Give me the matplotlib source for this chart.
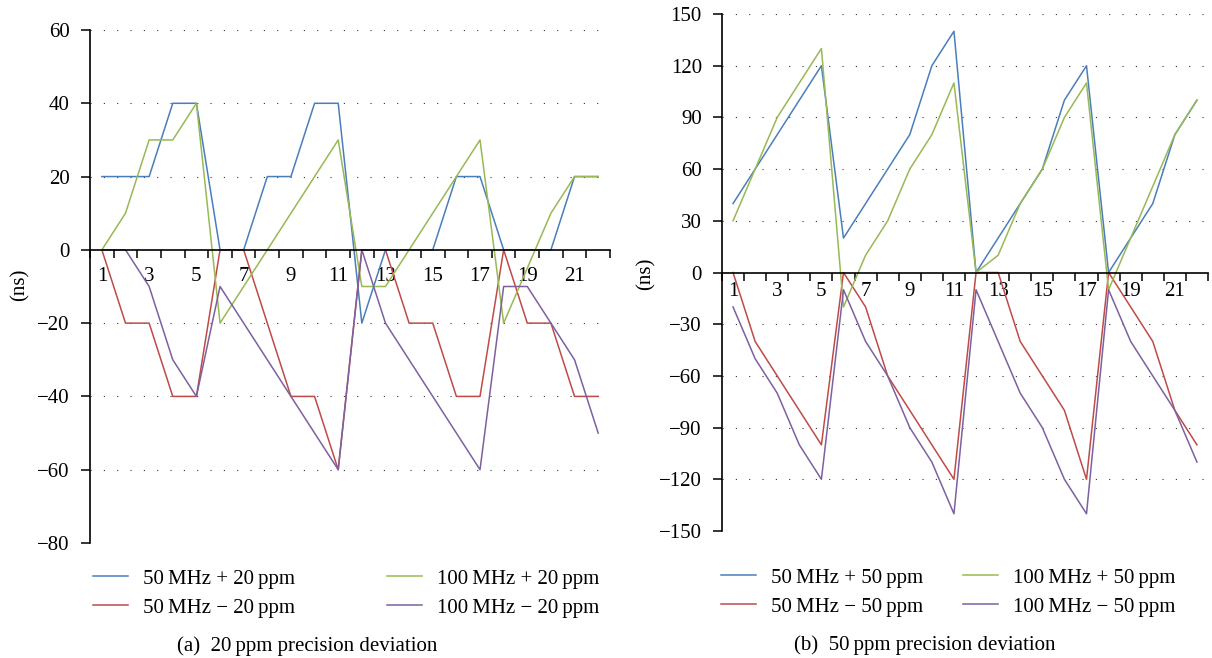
import matplotlib
matplotlib.use("Agg")
import matplotlib.pyplot as plt
import numpy as np

plt.rcParams['font.family'] = ['Liberation Serif', 'DejaVu Serif']
plt.rcParams['font.size'] = 15

# sample index 1..22
x = np.arange(1, 23)

# (a) 20 ppm
a_50_plus = [20, 20, 20, 40, 40, 0, 0, 20, 20, 40, 40, -20, 0, 0, 0, 20, 20, 0, 0, 0, 20, 20]
a_100_plus = [0, 10, 30, 30, 40, -20, -10, 0, 10, 20, 30, -10, -10, 0, 10, 20, 30, -20, -5, 10, 20, 20]
a_50_minus = [0, -20, -20, -40, -40, 0, 0, -20, -40, -40, -60, 0, 0, -20, -20, -40, -40, 0, -20, -20, -40, -40]
a_100_minus = [0, 0, -10, -30, -40, -10, -20, -30, -40, -50, -60, 0, -20, -30, -40, -50, -60, -10, -10, -20, -30, -50]

# (b) 50 ppm
b_50_plus = [40, 60, 80, 100, 120, 20, 40, 60, 80, 120, 140, 0, 20, 40, 60, 100, 120, 0, 20, 40, 80, 100]
b_100_plus = [30, 60, 90, 110, 130, -20, 10, 30, 60, 80, 110, 0, 10, 40, 60, 90, 110, -10, 20, 50, 80, 100]
b_50_minus = [0, -40, -60, -80, -100, 0, -20, -60, -80, -100, -120, 0, 0, -40, -60, -80, -120, 0, -20, -40, -80, -100]
b_100_minus = [-20, -50, -70, -100, -120, -10, -40, -60, -90, -110, -140, -10, -40, -70, -90, -120, -140, -10, -40, -60, -80, -110]

BLUE = '#4a7ebb'
RED = '#be4b48'
GREEN = '#98b954'
PURPLE = '#7d60a0'

fig = plt.figure(figsize=(12.12, 6.58), dpi=100)
ax1 = fig.add_axes([0.0743, 0.1748, 0.429, 0.7796])
ax2 = fig.add_axes([0.5957, 0.193, 0.401, 0.7857])


def style_axis(ax, ylim, yticks, label_pad):
    ax.set_xlim(0.5, 22.5)
    ax.set_ylim(*ylim)
    ax.set_yticks(yticks)
    ax.spines['top'].set_visible(False)
    ax.spines['right'].set_visible(False)
    ax.spines['bottom'].set_position(('data', 0))
    ax.spines['left'].set_linewidth(1.2)
    ax.spines['bottom'].set_linewidth(1.2)
    # category-style ticks between points, labels on odd samples
    ax.set_xticks(np.arange(0.5, 23, 1.0))
    ax.set_xticklabels([])
    ax.set_xticks(np.arange(1, 23, 2), minor=True)
    ax.set_xticklabels([str(v) for v in range(1, 23, 2)], minor=True)
    ax.tick_params(axis='x', which='major', direction='out', length=6, width=1.1)
    ax.tick_params(axis='x', which='minor', length=0, pad=label_pad)
    ax.tick_params(axis='y', direction='out', length=6.5, width=1.1, pad=8)
    for yv in yticks:
        if yv != 0:
            ax.axhline(yv, color='#333333', lw=0.8, ls=(0, (1, 11)), zorder=0)


style_axis(ax1, (-80, 60), np.arange(-80, 61, 20), 12)
style_axis(ax2, (-150, 150), np.arange(-150, 151, 30), 6.5)

lw = 1.1
ax1.plot(x, a_50_plus, color=BLUE, lw=lw, label='50\u2009MHz + 20\u2009ppm')
ax1.plot(x, a_50_minus, color=RED, lw=lw, label='50\u2009MHz \u2212 20\u2009ppm')
ax1.plot(x, a_100_plus, color=GREEN, lw=lw, label='100\u2009MHz + 20\u2009ppm')
ax1.plot(x, a_100_minus, color=PURPLE, lw=lw, label='100\u2009MHz \u2212 20\u2009ppm')

ax2.plot(x, b_50_plus, color=BLUE, lw=lw, label='50\u2009MHz + 50\u2009ppm')
ax2.plot(x, b_50_minus, color=RED, lw=lw, label='50\u2009MHz \u2212 50\u2009ppm')
ax2.plot(x, b_100_plus, color=GREEN, lw=lw, label='100\u2009MHz + 50\u2009ppm')
ax2.plot(x, b_100_minus, color=PURPLE, lw=lw, label='100\u2009MHz \u2212 50\u2009ppm')

leg_kw = dict(loc='upper left', ncol=2, frameon=False, handlelength=1.7,
              handletextpad=0.7, labelspacing=0.45,
              borderpad=0, borderaxespad=0, bbox_transform=fig.transFigure)
ax1.legend(bbox_to_anchor=(93 / 1212, 1 - 569 / 658), columnspacing=4.4, **leg_kw)
ax2.legend(bbox_to_anchor=(721 / 1212, 1 - 568 / 658), columnspacing=1.9, **leg_kw)

fig.text(20 / 1212, 1 - 285 / 658, '(ns)', rotation=90, ha='center', va='center')
fig.text(646 / 1212, 1 - 274 / 658, '(ns)', rotation=90, ha='center', va='center')

fig.text(307 / 1212, 1 - 646 / 658, '(a)  20\u2009ppm precision deviation', ha='center', va='center')
fig.text(925 / 1212, 1 - 645 / 658, '(b)  50\u2009ppm precision deviation', ha='center', va='center')

fig.savefig('out.png', dpi=100, facecolor='white')
